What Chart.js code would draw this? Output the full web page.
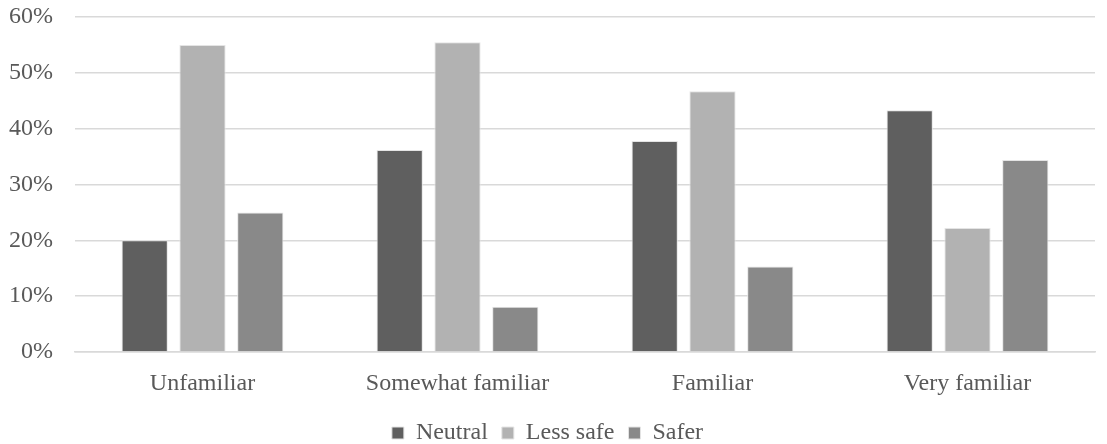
<!DOCTYPE html><html lang="en"><head><meta charset="utf-8"/>
<title>Familiarity vs perceived safety</title>
<script src="https://cdn.jsdelivr.net/npm/chart.js@4.4.1/dist/chart.umd.min.js"></script>
<style>
  *{box-sizing:border-box}
  body{margin:0;background:#fff}
  .wrap{width:1107px;height:444px;position:relative}
</style></head><body>
<div class="wrap"><canvas id="c"></canvas></div>
<script>
const categories = ['Unfamiliar', 'Somewhat familiar', 'Familiar', 'Very familiar'];
const neutral  = [20.0, 36.2, 37.8, 43.3];
const lessSafe = [55.0, 55.5, 46.7, 22.2];
const safer    = [25.0, 8.1, 15.3, 34.4];
const yTicks = [0, 10, 20, 30, 40, 50, 60];

const ink = '#595959';
const font = {family: '"Liberation Serif", "Times New Roman", serif', size: 24};

new Chart(document.getElementById('c'), {
  type: 'bar',
  data: {
    labels: categories,
    datasets: [
      {label: 'Neutral', data: neutral, backgroundColor: '#5f5f5f'},
      {label: 'Less safe', data: lessSafe, backgroundColor: '#b2b2b2'},
      {label: 'Safer', data: safer, backgroundColor: '#898989'}
    ].map(d => Object.assign(d, {borderColor: '#e4e4e4', borderWidth: 1,
      categoryPercentage: 0.68, barPercentage: 0.8}))
  },
  options: {
    responsive: true, maintainAspectRatio: false, animation: false,
    layout: {padding: {left: 0, right: 12, top: 0, bottom: -11}},
    plugins: {
      legend: {position: 'bottom',
        labels: {color: ink, font: font, boxWidth: 12, boxHeight: 12, padding: 14}},
      tooltip: {enabled: false}
    },
    scales: {
      x: {grid: {display: false}, border: {color: '#d9d9d9', width: 1.5},
        ticks: {color: ink, font: font, padding: 9},
        afterFit: ax => { ax.height = 55; }},
      y: {min: 0, max: 60, afterBuildTicks: ax => { ax.ticks = yTicks.map(v => ({value: v})); },
        grid: {color: '#d9d9d9', lineWidth: 1.5, drawTicks: false},
        border: {display: false},
        ticks: {color: ink, font: font, padding: 22, callback: v => v + '%'},
        afterFit: ax => { ax.width = 75; ax.paddingTop = 17; ax.paddingBottom = 0; }}
    }
  }
});
</script></body></html>
